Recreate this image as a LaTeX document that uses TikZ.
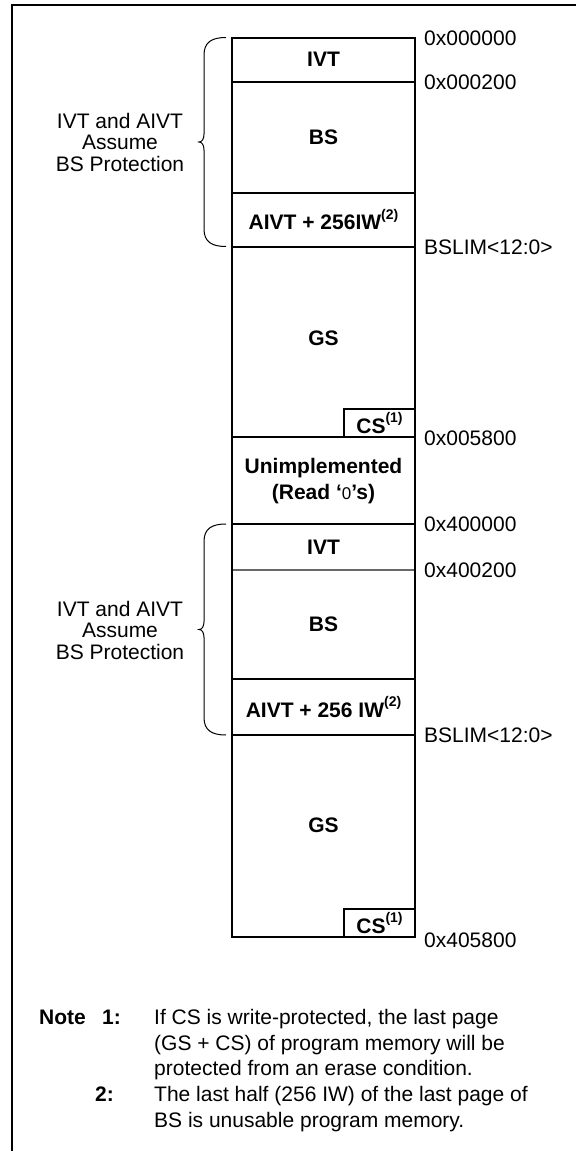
\documentclass[tikz,border=0pt]{standalone}
\usepackage{fontspec}
\setmainfont{Liberation Sans}
\usetikzlibrary{positioning}
\definecolor{rulegray}{RGB}{105,105,105}
\newcommand{\refmark}[1]{\raisebox{0.5em}{\fontsize{14}{14}\selectfont\bfseries #1}}

\begin{document}
\begin{tikzpicture}[x=1pt,y=-1pt,
    wall/.style={line width=2pt},
    blk/.style={font=\fontsize{21}{26}\selectfont\bfseries, align=center, inner sep=0pt},
    addr/.style={font=\fontsize{21}{24}\selectfont, anchor=base west, inner sep=0pt},
    side/.style={font=\fontsize{21}{21.5}\selectfont, align=center, inner sep=0pt},
    note/.style={font=\fontsize{21}{24}\selectfont, anchor=base west, inner sep=0pt}]
    \useasboundingbox (0,0) rectangle (580,1151);

    % Frame
    \draw[wall] (12,1151) -- (12,5) -- (576,5);

    % Upper memory column
    \draw[wall] (232,37.5) rectangle (415,436.5);
    \draw[wall] (232,81.5) -- (415,81.5);
    \draw[wall] (232,192.5) -- (415,192.5);
    \draw[wall] (232,246.5) -- (415,246.5);
    \draw[wall] (344,436.5) |- (415,409);

    % Unimplemented gap
    \draw[wall] (232,436.5) -- (232,524) -- (415,524) -- (415,436.5);

    % Lower memory column
    \draw[wall] (232,524) rectangle (415,936.5);
    \draw[line width=1.3pt, rulegray] (233,570) -- (414,570);
    \draw[wall] (232,679) -- (415,679);
    \draw[wall] (232,735) -- (415,735);
    \draw[wall] (344,936.5) |- (415,909);

    % Block names
    \node[blk] (ivtA) at (323.5,59.5) {IVT};
    \node[blk] (bsA) at (323.5,137) {BS};
    \node[blk] (aivtA) at (323.5,219.5) {AIVT + 256IW\refmark{(2)}};
    \node[blk] (gsA) at (323.5,338) {GS};
    \node[blk] (csA) at (379.5,423) {CS\refmark{(1)}};
    \node[blk] (unimp) at (323.5,481.5) {Unimplemented\\(Read ‘{\mdseries\fontsize{17}{20}\selectfont 0}’s)};
    \node[blk] (ivtB) at (323.5,547) {IVT};
    \node[blk] (bsB) at (323.5,624.5) {BS};
    \node[blk] (aivtB) at (323.5,707) {AIVT + 256 IW\refmark{(2)}};
    \node[blk] (gsB) at (323.5,825) {GS};
    \node[blk] (csB) at (379.5,923) {CS\refmark{(1)}};

    % Addresses
    \node[addr] (adrA) at (424,45) {0x000000};
    \node[addr] (adrB) at (424,89) {0x000200};
    \node[addr] (limA) at (424,254) {BSLIM<12:0>};
    \node[addr] (adrC) at (424,445) {0x005800};
    \node[addr] (adrD) at (424,531.5) {0x400000};
    \node[addr] (adrE) at (424,577.5) {0x400200};
    \node[addr] (limB) at (424,742.5) {BSLIM<12:0>};
    \node[addr] (adrF) at (424,947) {0x405800};

    % Braces
    \draw[line width=1pt] (226,37.5) .. controls (212,37.5) and (204,42) .. (204,55)
        -- (204,134) .. controls (204,139) and (202,142) .. (199,142)
        .. controls (202,142) and (204,145) .. (204,150)
        -- (204,229) .. controls (204,242) and (212,246.5) .. (226,246.5);
    \draw[line width=1pt] (226,524) .. controls (212,524) and (204,528.5) .. (204,541.5)
        -- (204,621.5) .. controls (204,626.5) and (202,629.5) .. (199,629.5)
        .. controls (202,629.5) and (204,632.5) .. (204,637.5)
        -- (204,717.5) .. controls (204,730.5) and (212,735) .. (226,735);
    \node[side] (protA) at (120,142) {IVT and AIVT\\Assume\\BS Protection};
    \node[side] (protB) at (120,630) {IVT and AIVT\\Assume\\BS Protection};

    % Notes
    \node[note] (noteHd) at (39,1024.5) {\bfseries Note};
    \node[note] (noteOne) at (102,1024.5) {\bfseries 1:};
    \node[note] (oneA) at (154,1024.5) {If CS is write-protected, the last page};
    \node[note] (oneB) at (154,1050) {(GS + CS) of program memory will be};
    \node[note] (oneC) at (154,1075.5) {protected from an erase condition.};
    \node[note] (noteTwo) at (95,1101) {\bfseries 2:};
    \node[note] (twoA) at (154,1101) {The last half (256 IW) of the last page of};
    \node[note] (twoB) at (154,1127) {BS is unusable program memory.};
\end{tikzpicture}
\end{document}
